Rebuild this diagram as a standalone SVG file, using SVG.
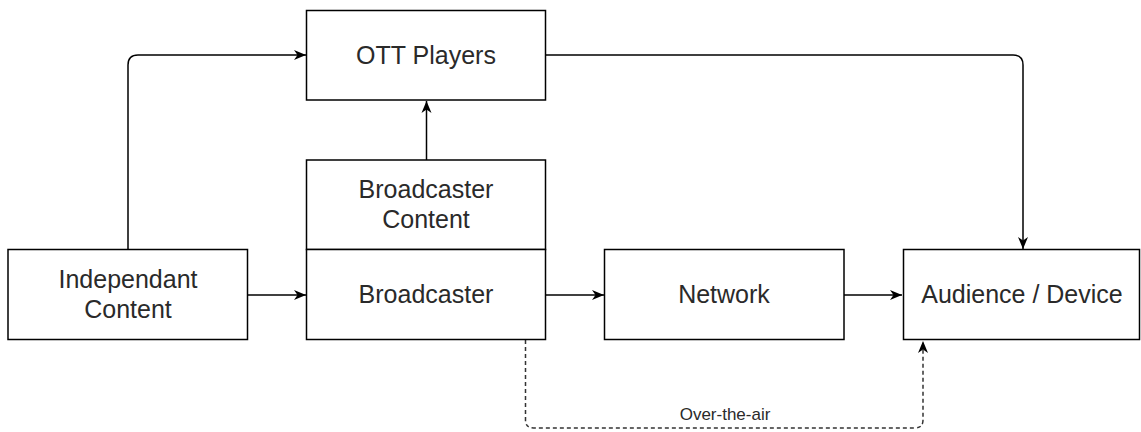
<svg xmlns="http://www.w3.org/2000/svg" width="1141" height="432" viewBox="0 0 1141 432">
<style>
.box{fill:#fff;stroke:#000;stroke-width:1.5}
.t{font-family:"Liberation Sans",Arial,sans-serif;font-size:25px;fill:#2a2a2a;text-anchor:middle}
.lbl{font-family:"Liberation Sans",Arial,sans-serif;font-size:17px;fill:#2a2a2a;text-anchor:middle}
.c{fill:none;stroke:#000;stroke-width:1.5}
.d{fill:none;stroke:#333;stroke-width:1.5;stroke-dasharray:4 3}
</style>
<defs>
<marker id="a" markerUnits="userSpaceOnUse" markerWidth="13" markerHeight="12" refX="12" refY="6" orient="auto">
<path d="M0,1 L12,6 L0,11 L3.5,6 z" fill="#000"/>
</marker>
</defs>
<rect width="1141" height="432" fill="#fff"/>
<g id="connectors">
<path class="c" d="M128 250 V65 Q128 55 138 55 H306" marker-end="url(#a)"/>
<path class="c" d="M248 295 H306" marker-end="url(#a)"/>
<path class="c" d="M426.5 160 V101" marker-end="url(#a)"/>
<path class="c" d="M546 55 H1013 Q1023 55 1023 65 V249" marker-end="url(#a)"/>
<path class="c" d="M546 295 H604" marker-end="url(#a)"/>
<path class="c" d="M844 295 H902" marker-end="url(#a)"/>
<path class="d" d="M525.5 340 V420 Q525.5 428 533.5 428 H915 Q923 428 923 420 V341" marker-end="url(#a)"/>
<text class="lbl" x="725" y="420">Over-the-air</text>
</g>
<g id="ott">
<rect class="box" x="306.5" y="10.5" width="239" height="89.5"/>
<text class="t" x="426" y="64">OTT Players</text>
</g>
<g id="broadcaster-content">
<rect class="box" x="306.5" y="160" width="239" height="89.5"/>
<text class="t" x="426" y="198">Broadcaster</text>
<text class="t" x="426" y="228">Content</text>
</g>
<g id="broadcaster">
<rect class="box" x="306.5" y="249.5" width="239" height="90"/>
<text class="t" x="426" y="303">Broadcaster</text>
</g>
<g id="independant">
<rect class="box" x="8" y="249.5" width="239.5" height="90"/>
<text class="t" x="128" y="288">Independant</text>
<text class="t" x="128" y="318">Content</text>
</g>
<g id="network">
<rect class="box" x="604.5" y="249.5" width="239.5" height="90"/>
<text class="t" x="724" y="303">Network</text>
</g>
<g id="audience">
<rect class="box" x="903.5" y="249.5" width="236" height="90"/>
<text class="t" x="1022" y="303">Audience / Device</text>
</g>
</svg>
